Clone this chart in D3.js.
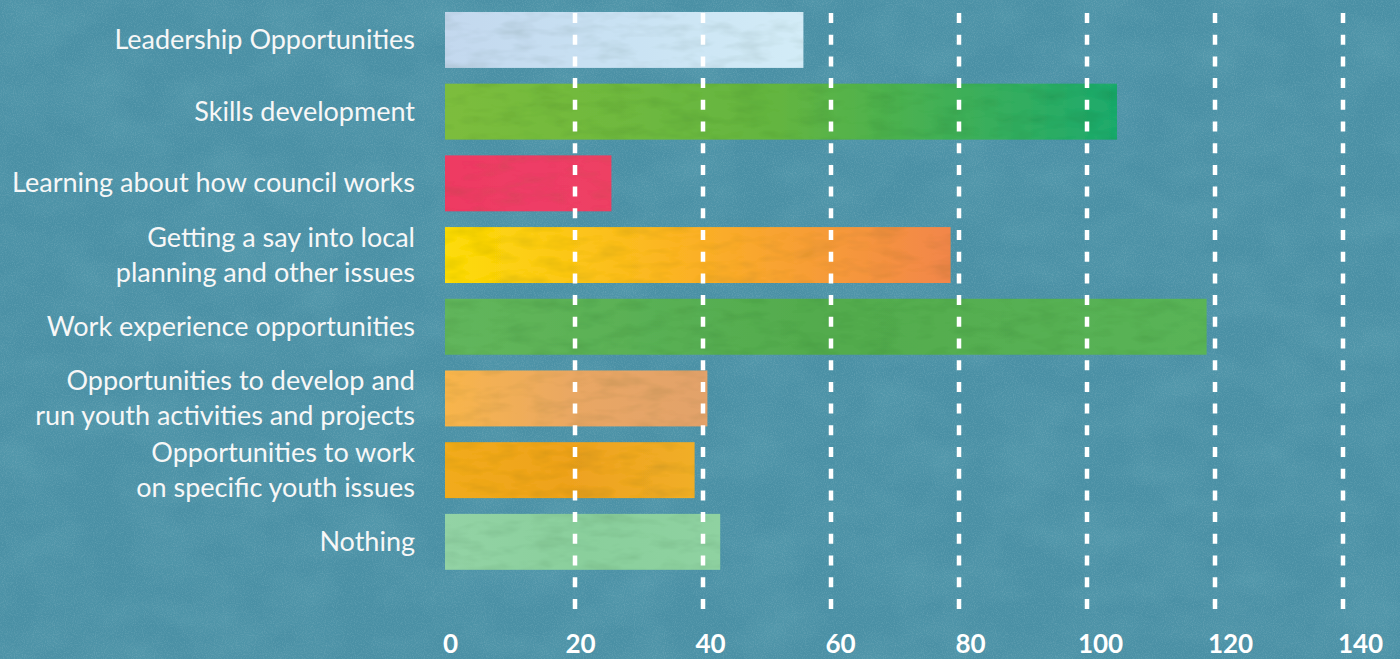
<!DOCTYPE html>
<html>
<head>
<meta charset="utf-8">
<script src="https://cdn.jsdelivr.net/npm/d3@7"></script>
<style>
  html, body { margin: 0; padding: 0; background: #4a90a5; }
  #graf { width: 1400px; height: 659px; }
  .etiqueta { font-family: Lato, 'Open Sans', sans-serif; font-size: 27px; fill: #f7f7f7; }
  .ejes text { font-family: Lato, 'Open Sans', sans-serif; font-size: 26px; font-weight: bold; fill: #ffffff; }
</style>
</head>
<body>
<div id="graf"></div>
<script>
// data
const categorias = [
  ['Leadership Opportunities'],
  ['Skills development'],
  ['Learning about how council works'],
  ['Getting a say into local', 'planning and other issues'],
  ['Work experience opportunities'],
  ['Opportunities to develop and', 'run youth activities and projects'],
  ['Opportunities to work', 'on specific youth issues'],
  ['Nothing'],
]
const valores = [56, 105, 26, 79, 119, 41, 39, 43]
const ticks = [0, 20, 40, 60, 80, 100, 120, 140]
// watercolour-ish fill of each bar: start / middle / end
const colores = [
  ['#c3d8ee', '#c9e2f3', '#d3ecf7'],
  ['#7cbd3c', '#63b541', '#1eaa6c'],
  ['#ee3a62', '#ee3d66', '#ee4064'],
  ['#fddc0c', '#fbb026', '#f2864a'],
  ['#62b65c', '#52ab4d', '#5ab457'],
  ['#f8b54b', '#e9a764', '#e2a26a'],
  ['#f2ab1c', '#eea21f', '#f1ae28'],
  ['#93d3a5', '#8acf9c', '#8fd2a1'],
]

const graf = d3.select('#graf')
const anchoTotal = 1400
const altoTotal = 659

const svg = graf
  .append('svg')
  .attr('width', anchoTotal)
  .attr('height', altoTotal)

const defs = svg.append('defs')

// paper texture for the background
const papel = defs.append('filter').attr('id', 'papel')
  .attr('x', 0).attr('y', 0).attr('width', '100%').attr('height', '100%')
papel.append('feTurbulence')
  .attr('type', 'fractalNoise')
  .attr('baseFrequency', '0.015 0.025')
  .attr('numOctaves', 3)
  .attr('seed', 4)
  .attr('result', 'manchas')
papel.append('feColorMatrix')
  .attr('in', 'manchas')
  .attr('type', 'matrix')
  .attr('values', '0 0 0 0 0.12  0 0 0 0 0.38  0 0 0 0 0.47  0 0 0 -1.4 0.9')
  .attr('result', 'oscuro')
papel.append('feTurbulence')
  .attr('type', 'fractalNoise')
  .attr('baseFrequency', 0.9)
  .attr('numOctaves', 2)
  .attr('seed', 9)
  .attr('result', 'grano')
papel.append('feColorMatrix')
  .attr('in', 'grano')
  .attr('type', 'matrix')
  .attr('values', '0 0 0 0 0.45  0 0 0 0 0.68  0 0 0 0 0.74  0 0 0 -0.8 0.45')
  .attr('result', 'claro')
const mezcla = papel.append('feMerge')
mezcla.append('feMergeNode').attr('in', 'oscuro')
mezcla.append('feMergeNode').attr('in', 'claro')

// grain on the bars
const grano = defs.append('filter').attr('id', 'grano')
grano.append('feTurbulence')
  .attr('type', 'fractalNoise')
  .attr('baseFrequency', '0.03 0.08')
  .attr('numOctaves', 3)
  .attr('seed', 2)
  .attr('result', 'n')
grano.append('feColorMatrix')
  .attr('in', 'n')
  .attr('type', 'matrix')
  .attr('values', '0 0 0 0 0  0 0 0 0 0.1  0 0 0 0 0  0 0 0 -0.4 0.22')
  .attr('result', 'a')
grano.append('feComposite')
  .attr('in', 'a')
  .attr('in2', 'SourceGraphic')
  .attr('operator', 'in')
  .attr('result', 'b')
const mezclaB = grano.append('feMerge')
mezclaB.append('feMergeNode').attr('in', 'SourceGraphic')
mezclaB.append('feMergeNode').attr('in', 'b')

colores.forEach((c, i) => {
  const grad = defs.append('linearGradient')
    .attr('id', `grad${i}`)
    .attr('x1', 0).attr('x2', 1).attr('y1', 0).attr('y2', 0)
  c.forEach((col, j) => {
    grad.append('stop')
      .attr('offset', j / (c.length - 1))
      .attr('stop-color', col)
  })
})

svg.append('rect')
  .attr('width', anchoTotal)
  .attr('height', altoTotal)
  .attr('fill', '#4a90a5')
svg.append('rect')
  .attr('width', anchoTotal)
  .attr('height', altoTotal)
  .attr('fill', '#4a90a5')
  .attr('filter', 'url(#papel)')
  .attr('opacity', 0.5)

// !ESCALADORES
const x = d3.scaleLinear().domain([0, 140]).range([445, 1341])
// labels sit a little right of their gridlines
const xEtiqueta = d3.scaleLinear().domain([0, 140]).range([450, 1360])
const y = d3.scaleBand()
  .domain(d3.range(valores.length))
  .range([4.1, 577.7])
  .paddingInner(0.22)
  .paddingOuter(0.11)

// !BARRAS
svg.append('g')
  .selectAll('rect')
  .data(valores)
  .join('rect')
  .attr('x', x(0))
  .attr('y', (d, i) => y(i))
  .attr('width', (d) => x(d) - x(0))
  .attr('height', y.bandwidth())
  .attr('fill', (d, i) => `url(#grad${i})`)
  .attr('filter', 'url(#grano)')

// !LINEAS PUNTEADAS
svg.append('g')
  .selectAll('line')
  .data(ticks.filter((t) => t > 0))
  .join('line')
  .attr('x1', (d) => x(d) + 2)
  .attr('x2', (d) => x(d) + 2)
  .attr('y1', 13)
  .attr('y2', 610)
  .attr('stroke', '#ffffff')
  .attr('stroke-width', 4.5)
  .attr('stroke-dasharray', '10,11.7')

// !ETIQUETAS
const etiquetas = svg.append('g')
  .selectAll('text')
  .data(categorias)
  .join('text')
  .attr('class', 'etiqueta')
  .attr('text-anchor', 'end')
  .attr('x', 415)
  .attr('y', (d, i) => y(i) + y.bandwidth() / 2 + 9)

etiquetas.selectAll('tspan')
  .data((d) => d.map((t, j) => ({ t, j, n: d.length })))
  .join('tspan')
  .attr('x', 415)
  .attr('dy', (d) => (d.j === 0 ? -(d.n - 1) * 17.5 : 35))
  .text((d) => d.t)

// !EJE
const eje = svg.append('g')
  .attr('class', 'ejes')
  .attr('transform', 'translate(0, 653)')
  .call(d3.axisBottom(xEtiqueta).tickValues(ticks).tickSize(0).tickPadding(0))

eje.select('.domain').remove()
eje.selectAll('text')
  .attr('y', 0)
  .attr('dy', 0)
</script>
</body>
</html>
